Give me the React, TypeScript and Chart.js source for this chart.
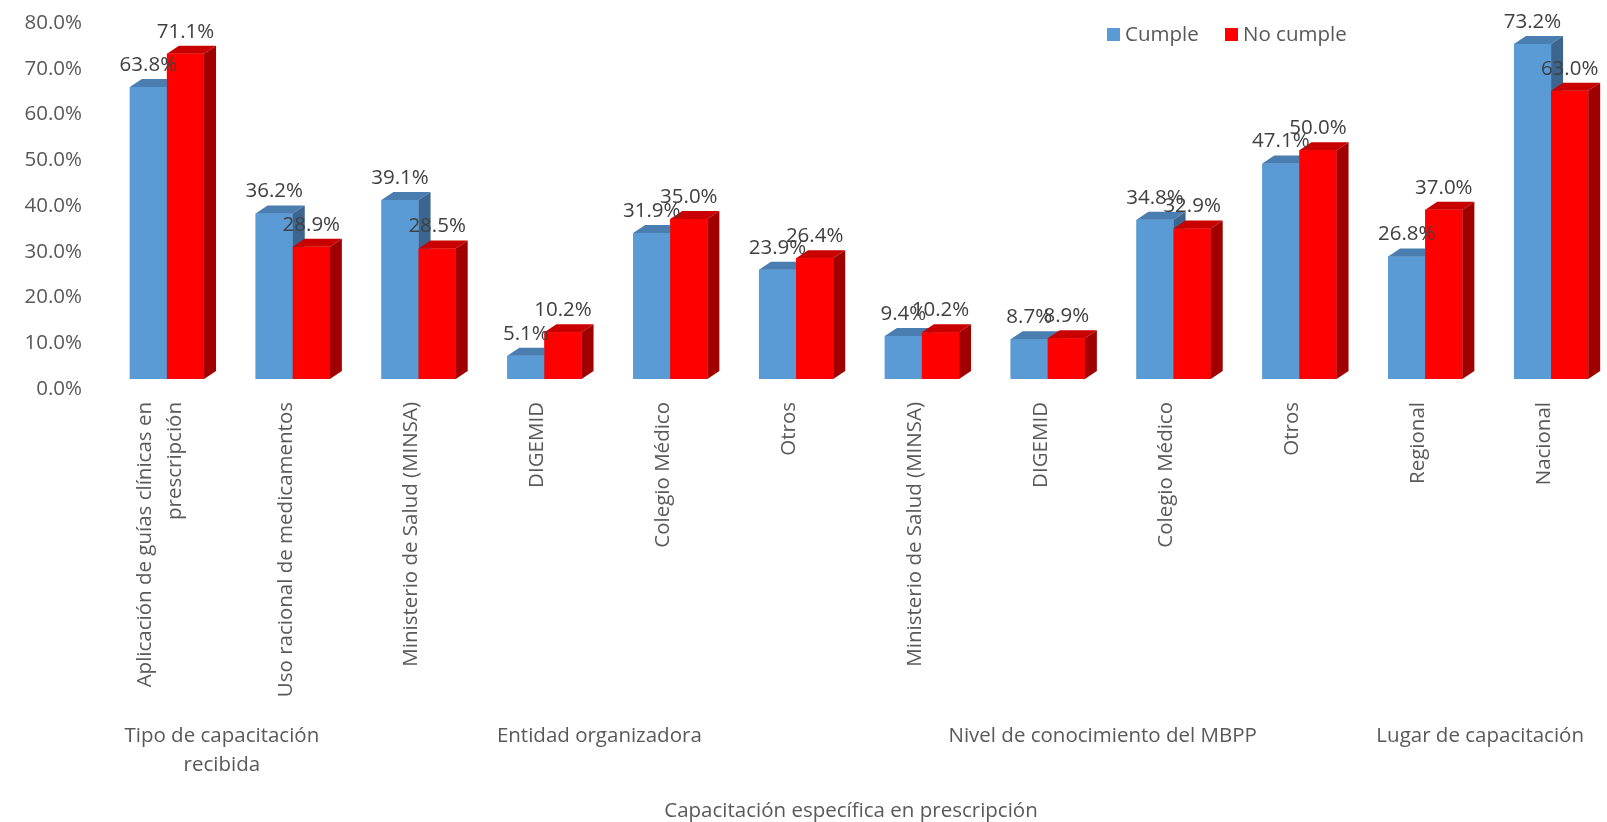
import React, { useEffect, useRef } from "react";
import { Chart, registerables } from "chart.js";

Chart.register(...registerables);

// ---------- data ----------
const categories: (string | string[])[] = [
  ["Aplicación de guías clínicas en", "prescripción"],
  "Uso racional de medicamentos",
  "Ministerio de Salud (MINSA)",
  "DIGEMID",
  "Colegio Médico",
  "Otros",
  "Ministerio de Salud (MINSA)",
  "DIGEMID",
  "Colegio Médico",
  "Otros",
  "Regional",
  "Nacional",
];
const cumple = [63.8, 36.2, 39.1, 5.1, 31.9, 23.9, 9.4, 8.7, 34.8, 47.1, 26.8, 73.2];
const noCumple = [71.1, 28.9, 28.5, 10.2, 35.0, 26.4, 10.2, 8.9, 32.9, 50.0, 37.0, 63.0];
const seriesNames = ["Cumple", "No cumple"];
const groupLabels = [
  ["Tipo de capacitación", "recibida"],
  ["Entidad organizadora"],
  ["Nivel de conocimiento del MBPP"],
  ["Lugar de capacitación"],
];
const groupStart = [0, 2, 6, 10];
const groupEnd = [1, 5, 9, 11];
const axisTitle = "Capacitación específica en prescripción";
const yMin = 0;
const yMax = 80;
const yStep = 10;

// ---------- style ----------
const FONT = "'Open Sans', 'Noto Sans', sans-serif";
const FS = 20.5;
const frontColors = ["#5B9BD5", "#FF0000"];
const topColors = ["#4a7db0", "#c80000"];
const sideColors = ["#3c6690", "#a00000"];
const DX = 12;
const DY = 8;

const excelPlugin = {
  id: "excel3d",
  afterDatasetsDraw(chart: any) {
    const ctx = chart.ctx as CanvasRenderingContext2D;
    const metas = [0, 1].map((i) => chart.getDatasetMeta(i));
    ctx.save();
    for (let i = 0; i < categories.length; i++) {
      metas.forEach((meta: any, d: number) => {
        const bar = meta.data[i];
        const { x, y, base, width } = bar;
        const l = x - width / 2;
        const r = x + width / 2;
        ctx.fillStyle = frontColors[d];
        ctx.fillRect(l, y, width, base - y);
        ctx.fillStyle = topColors[d];
        ctx.beginPath();
        ctx.moveTo(l, y);
        ctx.lineTo(l + DX, y - DY);
        ctx.lineTo(r + DX, y - DY);
        ctx.lineTo(r, y);
        ctx.closePath();
        ctx.fill();
        ctx.fillStyle = sideColors[d];
        ctx.beginPath();
        ctx.moveTo(r, y);
        ctx.lineTo(r + DX, y - DY);
        ctx.lineTo(r + DX, base - DY);
        ctx.lineTo(r, base);
        ctx.closePath();
        ctx.fill();
      });
    }
    ctx.restore();
  },
  afterDraw(chart: any) {
    const ctx = chart.ctx as CanvasRenderingContext2D;
    const xs = chart.scales.x;
    const ys = chart.scales.y;
    const area = chart.chartArea;
    ctx.save();
    ctx.font = `${FS}px ${FONT}`;

    // y tick labels (from the y scale's own ticks)
    ctx.fillStyle = "#595959";
    ctx.textAlign = "right";
    ctx.textBaseline = "middle";
    ys.ticks.forEach((t: any) => {
      ctx.fillText(`${Number(t.value).toFixed(1)}%`, area.left - 22, ys.getPixelForValue(t.value) + 10);
    });

    // data labels
    ctx.fillStyle = "#404040";
    ctx.textAlign = "center";
    ctx.textBaseline = "middle";
    [0, 1].forEach((d) => {
      const meta = chart.getDatasetMeta(d);
      const vals = chart.data.datasets[d].data as number[];
      meta.data.forEach((bar: any, i: number) => {
        ctx.fillText(`${vals[i].toFixed(1)}%`, bar.x, bar.y - 22);
      });
    });

    // category labels (rotated)
    ctx.fillStyle = "#595959";
    const labelTop = area.bottom + 23;
    categories.forEach((c, i) => {
      const lines = Array.isArray(c) ? c : [c];
      const cx = xs.getPixelForValue(i) - 7;
      ctx.save();
      ctx.translate(cx, labelTop);
      ctx.rotate(-Math.PI / 2);
      ctx.textAlign = "right";
      ctx.textBaseline = "middle";
      lines.forEach((ln, j) => {
        ctx.fillText(ln, 0, (j - (lines.length - 1) / 2) * 30);
      });
      ctx.restore();
    });

    // group labels
    ctx.textAlign = "center";
    ctx.textBaseline = "middle";
    const gy = area.bottom + 357;
    groupLabels.forEach((g, k) => {
      const cx = (xs.getPixelForValue(groupStart[k]) + xs.getPixelForValue(groupEnd[k])) / 2 - 8;
      g.forEach((ln, j) => ctx.fillText(ln, cx, gy + j * 29));
    });

    // axis title
    ctx.fillText(axisTitle, (xs.getPixelForValue(0) + xs.getPixelForValue(categories.length - 1)) / 2 - 8, area.bottom + 432);

    // legend
    const lx = [1107, 1225];
    seriesNames.forEach((name, d) => {
      ctx.fillStyle = frontColors[d];
      ctx.fillRect(lx[d], 28, 13, 13);
      ctx.fillStyle = "#595959";
      ctx.textAlign = "left";
      ctx.fillText(name, lx[d] + 18, 35);
    });
    ctx.restore();
  },
};

export default function App() {
  const ref = useRef<HTMLCanvasElement | null>(null);
  useEffect(() => {
    if (!ref.current) return;
    const chart = new Chart(ref.current, {
      type: "bar",
      data: {
        labels: categories as any,
        datasets: [
          { label: seriesNames[0], data: cumple, backgroundColor: frontColors[0], borderWidth: 0 },
          { label: seriesNames[1], data: noCumple, backgroundColor: frontColors[1], borderWidth: 0 },
        ],
      },
      options: {
        animation: false,
        responsive: false,
        devicePixelRatio: 1,
        layout: { padding: { top: 13, right: 6, left: 0, bottom: 0 } },
        plugins: { legend: { display: false }, tooltip: { enabled: false }, title: { display: false } },
        datasets: { bar: { categoryPercentage: 0.59, barPercentage: 1.0 } },
        scales: {
          x: {
            grid: { display: false, drawTicks: false },
            border: { display: false },
            ticks: { display: false },
            title: { display: false },
            afterFit: (s: any) => {
              s.height = 443;
              s.paddingLeft = 0;
              s.paddingRight = 0;
            },
          },
          y: {
            min: yMin,
            max: yMax,
            grid: { display: false, drawTicks: false },
            border: { display: false },
            ticks: { stepSize: yStep, display: false },
            afterFit: (s: any) => {
              s.width = 104;
              s.paddingTop = 0;
              s.paddingBottom = 0;
            },
          },
        },
      },
      plugins: [excelPlugin],
    });
    return () => chart.destroy();
  }, []);
  return (
    <div style={{ position: "fixed", left: 0, top: 0, width: 1607, height: 822, overflow: "hidden", background: "#fff" }}>
      <canvas ref={ref} width={1620} height={822} style={{ display: "block" }} />
    </div>
  );
}
